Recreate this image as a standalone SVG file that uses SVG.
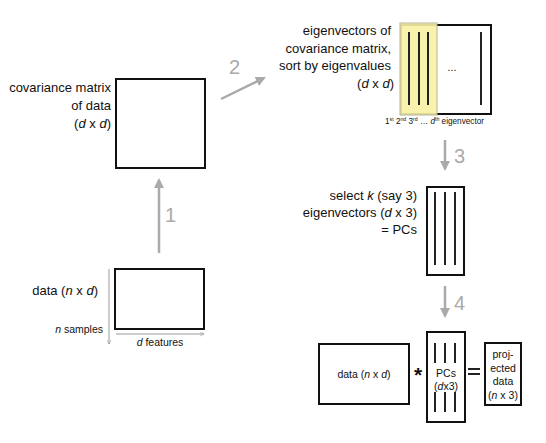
<svg xmlns="http://www.w3.org/2000/svg" width="546" height="443" viewBox="0 0 546 443">
<style>
text{font-family:"Liberation Sans",Arial,sans-serif;fill:#111}
.box{fill:#fff;stroke:#111;stroke-width:2}
.vec{stroke:#222;stroke-width:2}
.lbl{font-size:13px}
.sm{font-size:10.5px}
.num{font-size:20px;fill:#aaa}
.ga{stroke:#aaa;stroke-width:2.5;fill:none}
.thin{stroke:#999;stroke-width:1;fill:none}
</style>
<defs>
<marker id="ah" viewBox="0 0 10 10" refX="8" refY="5" markerWidth="4" markerHeight="4" orient="auto" markerUnits="strokeWidth"><path d="M0,0 L10,5 L0,10 z" fill="#aaa"/></marker>
<marker id="th" viewBox="0 0 10 10" refX="9" refY="5" markerWidth="5" markerHeight="5" orient="auto" markerUnits="strokeWidth"><path d="M1,1 L9,5 L1,9" fill="none" stroke="#999" stroke-width="1.2"/></marker>
</defs>
<g id="connectors">
<line class="ga" x1="159" y1="253" x2="159" y2="180" marker-end="url(#ah)"/>
<text class="num" x="165" y="222">1</text>
<line class="ga" x1="221" y1="99" x2="264" y2="78" marker-end="url(#ah)"/>
<text class="num" x="229" y="74">2</text>
<line class="ga" x1="445" y1="140" x2="445" y2="169" marker-end="url(#ah)"/>
<text class="num" x="454" y="163">3</text>
<line class="ga" x1="445" y1="286" x2="445" y2="316" marker-end="url(#ah)"/>
<text class="num" x="454" y="310">4</text>
</g>
<g id="cov">
<rect class="box" x="116" y="79" width="89" height="89"/>
<text class="lbl" text-anchor="end" x="111" y="92">covariance matrix</text>
<text class="lbl" text-anchor="end" x="111" y="110">of data</text>
<text class="lbl" text-anchor="end" x="111" y="128">(<tspan font-style="italic">d</tspan> x <tspan font-style="italic">d</tspan>)</text>
</g>
<g id="data">
<rect class="box" x="115" y="269" width="89" height="60"/>
<text class="lbl" text-anchor="end" x="98" y="295">data (<tspan font-style="italic">n</tspan> x <tspan font-style="italic">d</tspan>)</text>
<line class="thin" x1="109" y1="269" x2="109" y2="344" marker-end="url(#th)"/>
<line class="thin" x1="116" y1="334" x2="204" y2="334" marker-end="url(#th)"/>
<text class="sm" text-anchor="end" x="103" y="333"><tspan font-style="italic">n</tspan> samples</text>
<text class="sm" text-anchor="middle" x="160" y="346"><tspan font-style="italic">d</tspan> features</text>
</g>
<g id="eig">
<rect class="box" x="401" y="25" width="90" height="89"/>
<rect x="400" y="23" width="37" height="92" fill="#f7f1a3" fill-opacity="0.9" stroke="#b8b49a" stroke-width="1"/>
<line class="vec" x1="409" y1="32" x2="409" y2="105"/>
<line class="vec" x1="419" y1="32" x2="419" y2="105"/>
<line class="vec" x1="428" y1="32" x2="428" y2="105"/>
<line class="vec" x1="481" y1="32" x2="481" y2="105"/>
<text class="sm" text-anchor="middle" x="452" y="71">...</text>
<text class="lbl" text-anchor="end" x="391" y="35">eigenvectors of</text>
<text class="lbl" text-anchor="end" x="391" y="53">covariance matrix,</text>
<text class="lbl" text-anchor="end" x="391" y="70">sort by eigenvalues</text>
<text class="lbl" text-anchor="end" x="394" y="88">(<tspan font-style="italic">d</tspan> x <tspan font-style="italic">d</tspan>)</text>
<text x="385" y="124" font-size="8.2">1<tspan font-size="5.2" dy="-3">st</tspan><tspan dy="3"> 2</tspan><tspan font-size="5.2" dy="-3">nd</tspan><tspan dy="3"> 3</tspan><tspan font-size="5.2" dy="-3">rd</tspan><tspan dy="3"> … </tspan><tspan font-style="italic">d</tspan><tspan font-size="5.2" dy="-3">th</tspan><tspan dy="3"> eigenvector</tspan></text>
</g>
<g id="pcs">
<rect class="box" x="427" y="187" width="37" height="88"/>
<line class="vec" x1="435" y1="192" x2="435" y2="265"/>
<line class="vec" x1="445" y1="192" x2="445" y2="265"/>
<line class="vec" x1="455" y1="192" x2="455" y2="265"/>
<text class="lbl" text-anchor="end" x="417" y="200">select <tspan font-style="italic">k</tspan> (say 3)</text>
<text class="lbl" text-anchor="end" x="417" y="217">eigenvectors (<tspan font-style="italic">d</tspan> x 3)</text>
<text class="lbl" text-anchor="end" x="417" y="234">= PCs</text>
</g>
<g id="data2">
<rect class="box" x="319" y="344" width="90" height="60"/>
<text class="sm" text-anchor="middle" x="364" y="378">data (<tspan font-style="italic">n</tspan> x <tspan font-style="italic">d</tspan>)</text>
<text x="418" y="382" font-size="21" font-weight="bold" text-anchor="middle">*</text>
</g>
<g id="pcs2">
<rect class="box" x="427" y="332" width="38" height="90"/>
<line class="vec" x1="435" y1="343" x2="435" y2="363"/>
<line class="vec" x1="445" y1="343" x2="445" y2="363"/>
<line class="vec" x1="455" y1="343" x2="455" y2="363"/>
<line class="vec" x1="435" y1="392" x2="435" y2="412"/>
<line class="vec" x1="445" y1="392" x2="445" y2="412"/>
<line class="vec" x1="455" y1="392" x2="455" y2="412"/>
<text class="sm" text-anchor="middle" x="446" y="377">PCs</text>
<text class="sm" text-anchor="middle" x="446" y="390">(<tspan font-style="italic">d</tspan>x3)</text>
<line x1="468" y1="369" x2="480" y2="369" stroke="#222" stroke-width="2"/>
<line x1="468" y1="374" x2="480" y2="374" stroke="#222" stroke-width="2"/>
</g>
<g id="proj">
<rect class="box" x="485" y="343" width="36" height="62"/>
<text class="sm" text-anchor="middle" x="503" y="358">proj-</text>
<text class="sm" text-anchor="middle" x="503" y="372">ected</text>
<text class="sm" text-anchor="middle" x="503" y="385">data</text>
<text class="sm" text-anchor="middle" x="503" y="399">(<tspan font-style="italic">n</tspan> x 3)</text>
</g>
</svg>
